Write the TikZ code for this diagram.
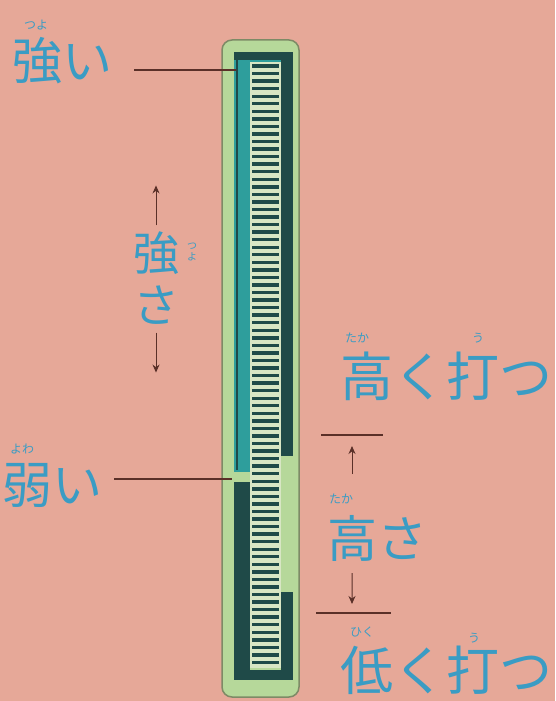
\documentclass[tikz,border=0pt]{standalone}
\usepackage{fontspec}
\newfontfamily\jpfont{Noto Sans CJK JP}
\usetikzlibrary{calc,positioning,arrows.meta}

\definecolor{paper}{HTML}{E6A898}
\definecolor{inkblue}{HTML}{3A9CC4}
\definecolor{rulebrown}{HTML}{5A3028}
\definecolor{gaugeteal}{HTML}{2E9E9C}
\definecolor{gaugedark}{HTML}{1F4A48}
\definecolor{gaugelight}{HTML}{B6D89A}
\definecolor{gaugerim}{HTML}{7E8A66}
\definecolor{ladderpale}{HTML}{D8E6C4}

\begin{document}
\begin{tikzpicture}[x=1pt,y=-1pt]
\tikzset{
% text styles: big labels and their small ruby
big label/.style={text=inkblue,font=\jpfont\fontsize{50}{50}\selectfont,inner sep=0},
wide label/.style={big label,font=\jpfont\fontsize{53}{53}\selectfont},
side label/.style={text=inkblue,font=\jpfont\fontsize{46}{52}\selectfont,inner sep=0,align=center},
ruby/.style={text=inkblue,font=\jpfont\fontsize{12}{12}\selectfont,inner sep=0},
pointer/.style={rulebrown,line width=1.3},
dim arrow/.style={rulebrown,line width=1,-{Stealth[length=8,width=7]}}
}
\fill[paper] (0,0) rectangle (555,701);
\useasboundingbox (0,0) rectangle (555,701);

% The gauge
\draw[gaugerim,fill=gaugelight,line width=1.5,rounded corners=10] (222,40) rectangle (299,697);
% upper part: strength
\fill[gaugeteal] (234,54) rectangle (281,472);
\draw[gaugedark,line width=1.5] (237,57) -- (237,470);
\fill[gaugedark] (234,52) rectangle (293,60);
\fill[gaugedark] (281,52) rectangle (293,456);
% lower part: height
\fill[gaugedark] (234,482) rectangle (250,680);
\fill[gaugedark] (234,670) rectangle (293,680);
\fill[gaugedark] (281,592) rectangle (293,680);
% the ladder
\fill[ladderpale] (250,62) rectangle (281,668);
\foreach \i in {0,...,79}
  \draw[gaugedark,line width=3.4] (252,66+7.55*\i) -- (279,66+7.55*\i);

% points on the gauge
\coordinate (strong tip) at (236,70);
\coordinate (weak tip) at (232,479);

% strong / weak
\node (strong) [big label,anchor=west] at (12,61) {強い};
\node (strong ruby) [ruby] at (36,25) {つよ};
\node (weak) [big label,anchor=west] at (2,485) {弱い};
\node (weak ruby) [ruby] at (22,449) {よわ};
\draw[pointer,shorten <=22] (strong.east |- strong tip) -- (strong tip);
\draw[pointer,shorten <=12] (weak.east |- weak tip) -- (weak tip);

% strength, vertical
\node (strength) [side label] at (156,278) {強\\さ};
\node (strength ruby) [ruby,align=center,font=\jpfont\fontsize{10}{11}\selectfont] at (192,252) {つ\\よ};
\draw[dim arrow] ([yshift=6]strength.north) -- ++(0,-40);
\draw[dim arrow] ([yshift=-8]strength.south) -- ++(0,40);

% hit high / hit low
\node (high) [wide label,anchor=west] at (340,376) {高く打つ};
\node (high ruby) [ruby] at (357,338) {たか};
\node (high ruby2) [ruby] at (478,338) {う};
\node (low) [wide label,anchor=west] at (340,670) {低く打つ};
\node (low ruby) [ruby] at (362,632) {ひく};
\node (low ruby2) [ruby] at (474,638) {う};

% height
\coordinate (top l) at (321,435);
\coordinate (top r) at (383,435);
\coordinate (bot l) at (316,613);
\coordinate (bot r) at (391,613);
\node (height) [big label,anchor=west] at (327,538) {高さ};
\node (height ruby) [ruby] at (341,499) {たか};
\draw[pointer] (top l) -- (top r);
\draw[pointer] (bot l) -- (bot r);
\draw[dim arrow] (352,474) -- ($(top l)!.5!(top r)+(0,11)$);
\draw[dim arrow] (352,573) -- ($(bot l)!.48!(bot r)+(0,-9)$);
\end{tikzpicture}
\end{document}
